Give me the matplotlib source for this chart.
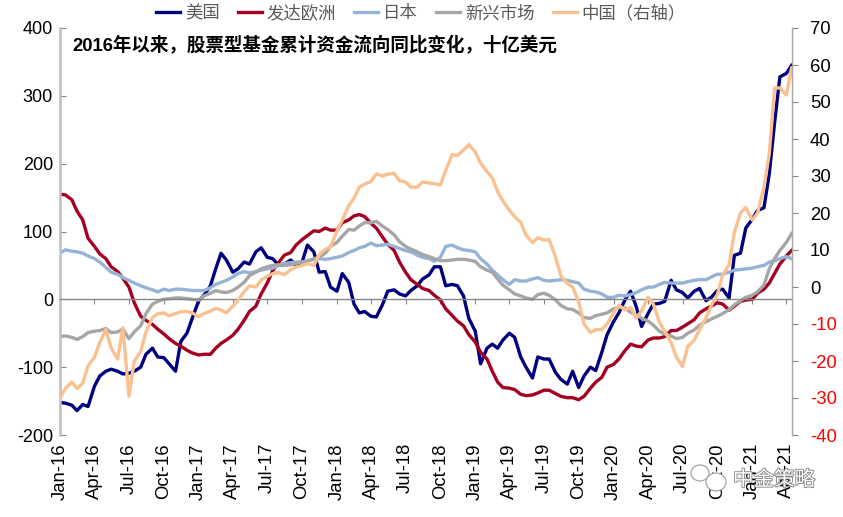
import pandas as pd
from matplotlib import pyplot as plt, patches
from matplotlib import dates as mdates
from matplotlib import patheffects
from matplotlib.lines import Line2D
from matplotlib.transforms import IdentityTransform

plt.rcParams['font.family'] = ['Liberation Sans', 'Noto Sans CJK SC', 'DejaVu Sans']
plt.rcParams['axes.unicode_minus'] = False

# twice-monthly readings, Jan-16 to mid Apr-21
us = [-152, -153, -156, -164, -155, -158, -128, -113, -106, -103, -106, -110, -109, -106, -100, -81,
      -72, -85, -86, -95, -106, -62, -50, -28, -2, 6, 20, 45, 68, 58, 40, 45,
      55, 52, 70, 76, 62, 60, 50, 52, 58, 50, 55, 80, 70, 40, 41, 18,
      12, 38, 25, -7, -20, -18, -25, -26, -8, 12, 14, 8, 5, 13, 20, 30,
      36, 48, 48, 20, 22, 20, 5, -28, -47, -95, -72, -66, -72, -60, -50, -56,
      -85, -100, -116, -85, -88, -88, -108, -118, -125, -106, -130, -113, -100, -105, -78, -52,
      -33, -20, 0, 12, -11, -40, -21, -7, -6, -3, 28, 14, 10, 2, 12, 16,
      -2, 3, 13, 15, 2, 65, 68, 105, 118, 131, 135, 185, 260, 328, 333, 345]
europe = [155, 154, 147, 130, 117, 90, 78, 67, 60, 48, 41, 31, 18, -5, -25, -31,
          -37, -44, -51, -58, -65, -69, -75, -79, -82, -81, -81, -72, -65, -60, -53, -44,
          -31, -18, -10, 8, 24, 42, 55, 65, 69, 80, 88, 94, 101, 100, 105, 102,
          102, 113, 117, 123, 125, 122, 112, 105, 92, 81, 72, 55, 40, 29, 22, 16,
          13, 6, -1, -14, -24, -32, -39, -52, -63, -78, -88, -106, -122, -130, -131, -133,
          -140, -142, -141, -138, -134, -134, -139, -143, -145, -145, -148, -143, -131, -122, -115, -100,
          -96, -88, -75, -66, -69, -70, -60, -57, -57, -55, -46, -46, -41, -36, -30, -20,
          -14, -10, -5, -7, -16, -10, -3, -1, 0, 9, 15, 24, 38, 52, 64, 72]
japan = [68, 73, 71, 70, 68, 64, 60, 55, 47, 40, 37, 32, 28, 24, 20, 17,
         14, 11, 15, 13, 15, 15, 14, 13, 13, 13, 17, 22, 25, 28, 33, 38,
         41, 39, 41, 43, 45, 46, 50, 53, 54, 55, 55, 57, 59, 60, 59, 60,
         62, 64, 69, 72, 76, 78, 83, 79, 80, 81, 78, 75, 72, 70, 65, 62,
         60, 56, 62, 78, 80, 76, 73, 72, 70, 60, 52, 43, 36, 29, 22, 29,
         27, 27, 30, 32, 28, 27, 28, 29, 28, 26, 24, 15, 12, 11, 8, 3,
         3, 6, 5, 7, 10, 14, 18, 18, 22, 25, 24, 24, 24, 26, 28, 29,
         29, 33, 37, 37, 40, 43, 44, 45, 46, 48, 50, 55, 57, 60, 63, 60]
em = [-55, -54, -56, -59, -55, -49, -47, -46, -43, -49, -48, -44, -58, -48, -39, -21,
      -7, -3, 0, 1, 2, 2, 1, 0, -1, 5, 9, 13, 11, 10, 13, 18,
      25, 35, 40, 45, 48, 50, 51, 50, 51, 53, 55, 56, 60, 62, 68, 78,
      84, 93, 103, 102, 108, 113, 113, 115, 108, 103, 95, 85, 78, 74, 70, 66,
      63, 60, 57, 57, 58, 59, 59, 58, 56, 48, 43, 40, 30, 21, 14, 8,
      5, 2, 0, 7, 9, 6, -1, -9, -14, -15, -20, -27, -28, -24, -22, -20,
      -14, -12, -13, -19, -23, -28, -32, -38, -47, -51, -54, -58, -56, -50, -45, -38,
      -33, -29, -25, -21, -15, -8, -2, 3, 6, 11, 21, 45, 60, 72, 84, 97]
china = [-30, -27.5, -25.7, -27.4, -26, -21.3, -19, -15, -11.5, -16.5, -19.5, -11, -29.5, -20, -17.5, -12.1,
         -8.3, -7.2, -7, -7.8, -7.2, -6.7, -6.6, -7, -8, -7.2, -6.5, -5.8, -6.2, -7, -5.2, -3.6,
         -1.2, 0.3, 0, 1.9, 2.9, 3.6, 3.9, 3.3, 4.7, 5.4, 5.8, 6.3, 5.8, 8.7, 10.2, 10.8,
         15.2, 18, 22, 24, 27, 27.8, 28.5, 30.6, 30, 30.5, 30.7, 28.7, 28.4, 27, 27, 28.4,
         28.1, 27.9, 27.6, 31.5, 35.8, 35.5, 37, 38.5, 36.5, 33.5, 31.2, 29.5, 25.8, 23.2, 20.8, 19,
         17.5, 14, 12, 13.3, 12.7, 12.8, 8, 3, 1, 0, -4, -10, -12.3, -11.5, -11.5, -10,
         -7, -4.9, -6.2, -5.5, -8.4, -6.5, -2.8, -4.6, -9.5, -12, -15, -19, -21.5, -16, -14.4, -11.5,
         -8.4, -5, -2, 3.2, 6, 14.8, 20, 21.5, 18.1, 20, 27, 36, 53.8, 53.8, 51.9, 59.2]

dates = pd.date_range('2016-01-01', periods=len(us), freq='SMS')
quarters = pd.date_range('2016-01-01', '2021-04-01', freq='QS')

names = ['美国', '发达欧洲', '日本', '新兴市场', '中国（右轴）']
colors = ['#000080', '#A50021', '#95B3D7', '#A6A6A6', '#FAC090']
left_ticks = [-200, -100, 0, 100, 200, 300, 400]
right_ticks = [-40, -30, -20, -10, 0, 10, 20, 30, 40, 50, 60, 70]

W, H = 843, 517
fig = plt.figure(figsize=(W / 100, H / 100), dpi=100)
ax = fig.add_axes([60 / W, 1 - 435 / H, 732 / W, 407 / H])
ax2 = ax.twinx()

for vals, col in zip([us, europe, japan, em], colors):
    ax.plot(dates, vals, color=col, lw=2.4, solid_joinstyle='round')
ax2.plot(dates, china, color=colors[4], lw=2.4, solid_joinstyle='round')

ax.set_ylim(-200, 400)
ax2.set_ylim(-40, 70)
ax.set_xlim(pd.Timestamp('2016-01-01'), pd.Timestamp('2021-04-16'))
ax.set_yticks(left_ticks)
ax2.set_yticks(right_ticks)
ax.set_xticks(quarters)
ax.xaxis.set_major_formatter(mdates.DateFormatter('%b-%y'))

for a in (ax, ax2):
    a.spines['top'].set_visible(False)
    a.spines['bottom'].set_visible(False)
    a.spines['left'].set_visible(False)
    a.spines['right'].set_visible(False)
ax.spines['left'].set_visible(True)
ax.spines['left'].set_color('#BFBFBF')
ax.spines['left'].set_linewidth(1.8)
ax2.spines['right'].set_visible(True)
ax2.spines['right'].set_color('#A6A6A6')
ax2.spines['right'].set_linewidth(1.0)
ax.spines['bottom'].set_visible(True)
ax.spines['bottom'].set_position(('data', 0))
ax.spines['bottom'].set_color('#868686')
ax.spines['bottom'].set_linewidth(1.0)

ax.tick_params(axis='y', direction='in', length=4.5, width=0.8, color='#868686', labelsize=13, pad=5)
ax2.tick_params(axis='y', direction='out', length=4, width=0.8, color='#868686', labelsize=13.3, pad=9)
ax.tick_params(axis='x', direction='out', length=3.5, width=0.8, color='#868686', labelsize=13.3,
               pad=100, labelrotation=90)
for lab, v in zip(ax2.get_yticklabels(), right_ticks):
    if v < 0:
        lab.set_color('#FF0000')

handles = [Line2D([], [], color=c, lw=2.4) for c in colors]
fig.legend(handles, names, loc='center', bbox_to_anchor=(421 / W, 1 - 13 / H), ncol=5, frameon=False,
           fontsize=12.5, labelcolor='#595959', handlelength=1.38, handletextpad=0.29, columnspacing=1.04,
           borderaxespad=0, borderpad=0)

fig.text(72 / W, 1 - 46 / H, '2016年以来，股票型基金累计资金流向同比变化，十亿美元', fontsize=13.35,
         fontweight='bold', color='black', va='center', ha='left')

# watermark, bottom right
mark = fig.text(733 / W, 1 - 480 / H, '中金策略', fontsize=14.8, color='white', va='center', ha='left')
mark.set_path_effects([patheffects.withStroke(linewidth=1.2, foreground='#7F7F7F')])
for cx, cy, rx, ry in [(700, 473, 9, 8), (716, 482, 10, 9)]:
    fig.add_artist(patches.Ellipse((cx, H - cy), rx * 2, ry * 2, transform=IdentityTransform(),
                                   facecolor='white', edgecolor='#9A9A9A', lw=0.8))

fig.savefig('out.png', dpi=100)
